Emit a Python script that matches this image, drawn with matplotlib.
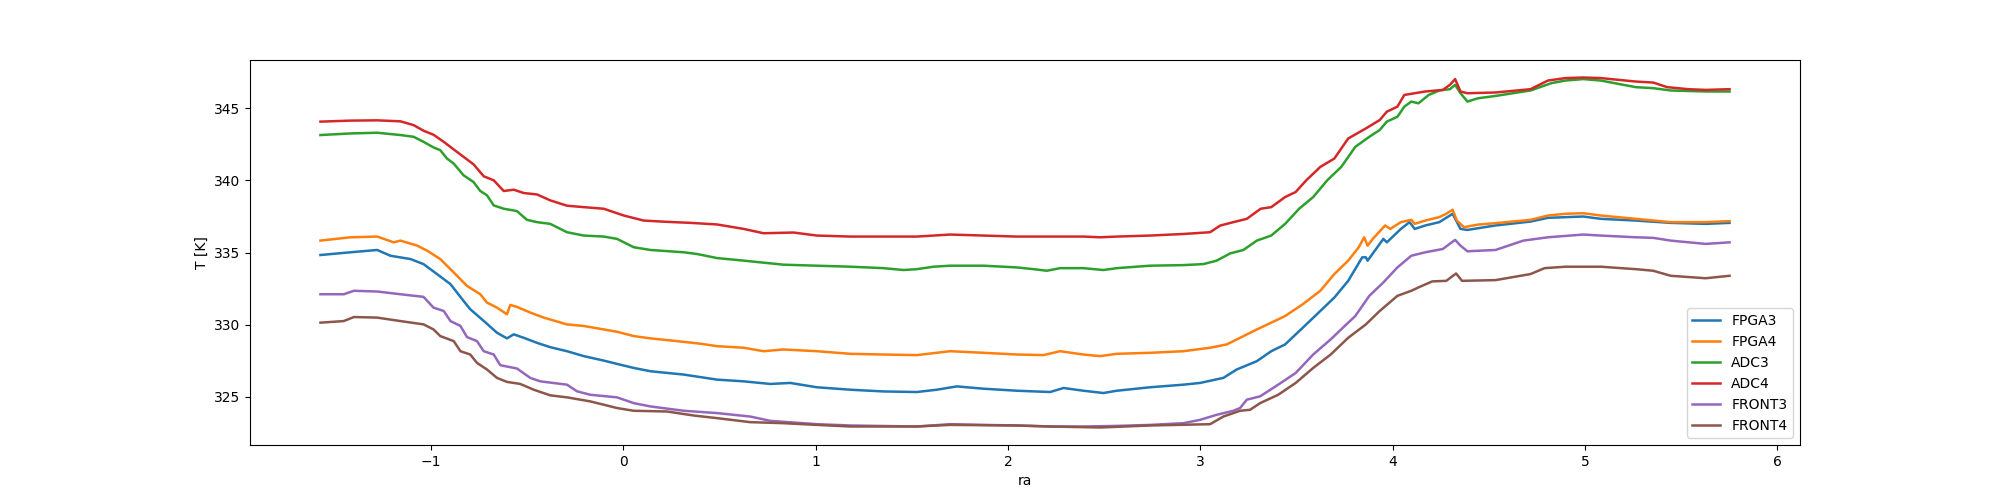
import matplotlib
matplotlib.use("Agg")
import matplotlib.pyplot as plt

# readings taken off the reference plot (ra, T in K)
ra_adc4 = [-1.575, -1.419, -1.280, -1.159, -1.091, -1.039, -0.987, -0.934, -0.882, -0.831,
           -0.779, -0.726, -0.674, -0.622, -0.570, -0.518, -0.449, -0.380, -0.293, -0.206,
           -0.102, 0.002, 0.106, 0.227, 0.349, 0.487, 0.626, 0.729, 0.885, 1.006,
           1.180, 1.353, 1.526, 1.699, 1.873, 2.046, 2.219, 2.392, 2.479, 2.566,
           2.739, 2.912, 3.051, 3.103, 3.172, 3.242, 3.314, 3.369, 3.441, 3.496,
           3.551, 3.624, 3.697, 3.769, 3.861, 3.933, 3.970, 4.025, 4.061, 4.115,
           4.170, 4.261, 4.298, 4.325, 4.353, 4.389, 4.535, 4.717, 4.808, 4.899,
           4.991, 5.082, 5.173, 5.264, 5.355, 5.428, 5.537, 5.628, 5.752]
adc4 = [344.08, 344.15, 344.17, 344.10, 343.84, 343.45, 343.17, 342.68, 342.15, 341.64,
        341.12, 340.29, 340.01, 339.27, 339.36, 339.13, 339.03, 338.62, 338.25, 338.15,
        338.04, 337.57, 337.22, 337.13, 337.06, 336.95, 336.64, 336.34, 336.39, 336.18,
        336.11, 336.11, 336.11, 336.25, 336.18, 336.11, 336.11, 336.11, 336.06, 336.11,
        336.18, 336.29, 336.41, 336.87, 337.11, 337.34, 338.04, 338.15, 338.85, 339.20,
        340.01, 340.94, 341.52, 342.91, 343.61, 344.19, 344.77, 345.12, 345.93, 346.05,
        346.17, 346.28, 346.63, 347.03, 346.17, 346.05, 346.10, 346.33, 346.93, 347.10,
        347.14, 347.10, 346.98, 346.86, 346.79, 346.47, 346.33, 346.28, 346.33]

ra_adc3 = [-1.575, -1.419, -1.280, -1.159, -1.091, -1.039, -0.987, -0.952, -0.917, -0.882,
           -0.831, -0.779, -0.744, -0.709, -0.674, -0.622, -0.570, -0.553, -0.501, -0.449,
           -0.380, -0.293, -0.206, -0.102, -0.033, 0.054, 0.141, 0.314, 0.383, 0.487,
           0.626, 0.833, 1.006, 1.180, 1.353, 1.457, 1.526, 1.613, 1.699, 1.873,
           2.046, 2.133, 2.202, 2.271, 2.392, 2.496, 2.566, 2.739, 2.912, 3.016,
           3.085, 3.155, 3.224, 3.294, 3.369, 3.441, 3.514, 3.587, 3.660, 3.733,
           3.806, 3.879, 3.933, 3.970, 4.025, 4.061, 4.097, 4.134, 4.188, 4.243,
           4.298, 4.325, 4.353, 4.389, 4.444, 4.535, 4.717, 4.826, 4.899, 4.991,
           5.082, 5.173, 5.264, 5.355, 5.446, 5.628, 5.752]
adc3 = [343.15, 343.26, 343.31, 343.15, 343.03, 342.68, 342.29, 342.10, 341.52, 341.17,
        340.36, 339.89, 339.27, 338.97, 338.27, 338.04, 337.92, 337.87, 337.27, 337.11,
        336.99, 336.41, 336.18, 336.11, 335.95, 335.37, 335.18, 335.02, 334.90, 334.62,
        334.44, 334.16, 334.09, 334.02, 333.92, 333.79, 333.85, 334.02, 334.09, 334.09,
        333.97, 333.85, 333.74, 333.92, 333.92, 333.79, 333.92, 334.09, 334.13, 334.20,
        334.44, 334.94, 335.18, 335.83, 336.18, 336.99, 338.04, 338.85, 340.01, 340.94,
        342.33, 343.03, 343.50, 344.08, 344.42, 345.12, 345.47, 345.35, 345.93, 346.24,
        346.33, 346.63, 346.05, 345.47, 345.70, 345.86, 346.24, 346.75, 346.93, 347.03,
        346.93, 346.70, 346.47, 346.40, 346.24, 346.17, 346.17]

ra_fpga4 = [-1.575, -1.419, -1.280, -1.194, -1.159, -1.072, -1.020, -0.952, -0.882, -0.813,
            -0.744, -0.709, -0.657, -0.605, -0.588, -0.553, -0.484, -0.414, -0.293, -0.206,
            -0.102, -0.033, 0.054, 0.141, 0.279, 0.401, 0.487, 0.626, 0.729, 0.833,
            1.006, 1.180, 1.353, 1.526, 1.699, 1.873, 2.046, 2.185, 2.271, 2.392,
            2.479, 2.566, 2.739, 2.912, 3.051, 3.137, 3.207, 3.294, 3.369, 3.441,
            3.533, 3.624, 3.697, 3.769, 3.824, 3.852, 3.870, 3.897, 3.961, 3.988,
            4.043, 4.097, 4.115, 4.170, 4.243, 4.279, 4.312, 4.334, 4.371, 4.444,
            4.535, 4.717, 4.808, 4.899, 4.991, 5.082, 5.264, 5.446, 5.628, 5.752]
fpga4 = [335.83, 336.06, 336.11, 335.71, 335.83, 335.48, 335.13, 334.55, 333.62, 332.69,
         332.11, 331.53, 331.18, 330.72, 331.37, 331.23, 330.84, 330.49, 330.02, 329.91,
         329.67, 329.51, 329.21, 329.05, 328.86, 328.68, 328.51, 328.40, 328.16, 328.28,
         328.16, 327.98, 327.93, 327.89, 328.16, 328.05, 327.93, 327.89, 328.16, 327.93,
         327.82, 327.98, 328.05, 328.16, 328.40, 328.63, 329.09, 329.67, 330.14, 330.60,
         331.42, 332.35, 333.51, 334.44, 335.37, 336.06, 335.48, 335.95, 336.88, 336.64,
         337.11, 337.27, 336.99, 337.22, 337.46, 337.69, 337.97, 337.22, 336.76, 336.94,
         337.04, 337.27, 337.57, 337.69, 337.73, 337.57, 337.34, 337.11, 337.11, 337.18]

ra_fpga3 = [-1.575, -1.419, -1.280, -1.211, -1.107, -1.039, -0.969, -0.899, -0.831, -0.796,
            -0.726, -0.657, -0.605, -0.570, -0.518, -0.449, -0.380, -0.293, -0.206, -0.102,
            -0.033, 0.054, 0.141, 0.314, 0.487, 0.626, 0.764, 0.868, 1.006, 1.180,
            1.353, 1.526, 1.630, 1.734, 1.873, 2.046, 2.219, 2.289, 2.392, 2.496,
            2.566, 2.739, 2.912, 2.999, 3.120, 3.189, 3.294, 3.369, 3.441, 3.533,
            3.624, 3.697, 3.769, 3.842, 3.861, 3.870, 3.952, 3.970, 4.043, 4.088,
            4.115, 4.170, 4.243, 4.312, 4.353, 4.389, 4.535, 4.717, 4.808, 4.991,
            5.082, 5.264, 5.446, 5.628, 5.752]
fpga3 = [334.83, 335.02, 335.18, 334.78, 334.55, 334.20, 333.51, 332.81, 331.65, 331.07,
         330.26, 329.44, 329.05, 329.33, 329.09, 328.74, 328.44, 328.16, 327.82, 327.51,
         327.28, 327.00, 326.77, 326.54, 326.19, 326.07, 325.89, 325.96, 325.66, 325.49,
         325.37, 325.33, 325.49, 325.72, 325.56, 325.42, 325.33, 325.61, 325.42, 325.26,
         325.42, 325.66, 325.84, 325.96, 326.31, 326.89, 327.47, 328.16, 328.63, 329.79,
         330.95, 331.88, 333.04, 334.67, 334.67, 334.44, 335.95, 335.71, 336.64, 337.11,
         336.64, 336.88, 337.11, 337.69, 336.64, 336.57, 336.88, 337.15, 337.41, 337.50,
         337.34, 337.22, 337.06, 336.99, 337.06]

ra_front3 = [-1.575, -1.454, -1.401, -1.280, -1.159, -1.039, -0.987, -0.934, -0.899, -0.847,
             -0.813, -0.761, -0.726, -0.674, -0.640, -0.553, -0.484, -0.432, -0.293, -0.241,
             -0.172, -0.033, 0.054, 0.141, 0.314, 0.487, 0.660, 0.764, 1.006, 1.180,
             1.526, 1.699, 1.873, 2.046, 2.219, 2.392, 2.566, 2.739, 2.912, 2.999,
             3.085, 3.172, 3.207, 3.242, 3.311, 3.405, 3.496, 3.587, 3.678, 3.751,
             3.806, 3.879, 3.952, 4.025, 4.097, 4.170, 4.261, 4.325, 4.353, 4.389,
             4.535, 4.680, 4.808, 4.991, 5.082, 5.264, 5.355, 5.446, 5.628, 5.752]
front3 = [332.11, 332.11, 332.35, 332.30, 332.11, 331.93, 331.18, 330.95, 330.25, 329.91,
          329.14, 328.86, 328.16, 327.93, 327.19, 326.96, 326.31, 326.07, 325.84, 325.38,
          325.14, 324.96, 324.56, 324.33, 324.03, 323.87, 323.63, 323.33, 323.10, 323.01,
          322.94, 323.10, 323.05, 323.01, 322.94, 322.94, 322.98, 323.05, 323.17, 323.40,
          323.75, 324.03, 324.22, 324.80, 325.03, 325.84, 326.65, 327.93, 328.98, 329.91,
          330.60, 332.00, 332.93, 333.97, 334.78, 335.02, 335.25, 335.88, 335.48, 335.09,
          335.18, 335.83, 336.06, 336.25, 336.18, 336.06, 336.02, 335.83, 335.60, 335.71]

ra_front4 = [-1.575, -1.454, -1.401, -1.280, -1.159, -1.039, -0.987, -0.952, -0.882, -0.847,
             -0.796, -0.761, -0.709, -0.657, -0.605, -0.536, -0.466, -0.380, -0.293, -0.172,
             -0.102, -0.033, 0.054, 0.227, 0.366, 0.487, 0.660, 0.833, 1.006, 1.180,
             1.526, 1.699, 2.046, 2.219, 2.479, 2.739, 3.051, 3.120, 3.207, 3.259,
             3.311, 3.405, 3.496, 3.587, 3.678, 3.769, 3.861, 3.933, 4.025, 4.097,
             4.134, 4.206, 4.279, 4.330, 4.361, 4.535, 4.717, 4.790, 4.899, 5.082,
             5.264, 5.355, 5.446, 5.628, 5.752]
front4 = [330.14, 330.25, 330.53, 330.49, 330.25, 330.02, 329.67, 329.21, 328.86, 328.16,
          327.93, 327.35, 326.89, 326.31, 326.03, 325.89, 325.49, 325.10, 324.96, 324.68,
          324.45, 324.22, 324.03, 323.98, 323.70, 323.52, 323.24, 323.17, 323.05, 322.94,
          322.94, 323.05, 323.01, 322.94, 322.87, 323.01, 323.10, 323.63, 324.03, 324.10,
          324.56, 325.14, 325.96, 327.00, 327.93, 329.09, 330.02, 330.95, 332.00, 332.35,
          332.58, 333.00, 333.04, 333.55, 333.04, 333.09, 333.51, 333.92, 334.02, 334.02,
          333.85, 333.74, 333.39, 333.22, 333.39]

fig, ax = plt.subplots(figsize=(20, 5), dpi=100)
lw = 1.8
ax.plot(ra_fpga3, fpga3, lw=lw, label="FPGA3")
ax.plot(ra_fpga4, fpga4, lw=lw, label="FPGA4")
ax.plot(ra_adc3, adc3, lw=lw, label="ADC3")
ax.plot(ra_adc4, adc4, lw=lw, label="ADC4")
ax.plot(ra_front3, front3, lw=lw, label="FRONT3")
ax.plot(ra_front4, front4, lw=lw, label="FRONT4")
ax.set_xlabel("ra")
ax.set_ylabel("T [K]")
ax.legend(loc="lower right")
fig.savefig("out.png")
